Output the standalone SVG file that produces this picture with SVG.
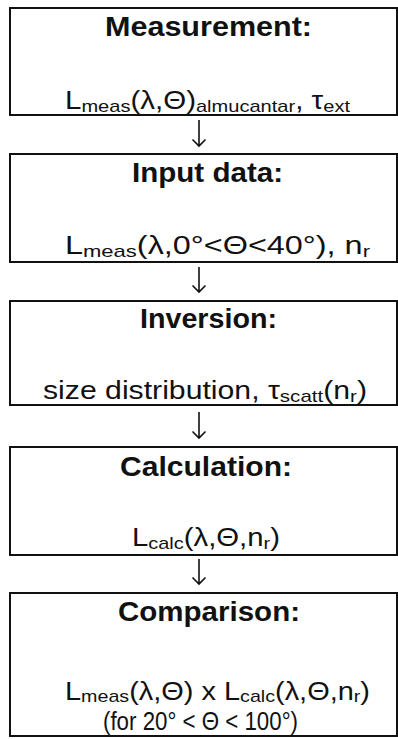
<svg xmlns="http://www.w3.org/2000/svg" width="398" height="739" viewBox="0 0 398 739">
<style>
.box{fill:#fff;stroke:#111;stroke-width:2}
.h{font-family:"Liberation Sans",Arial,Helvetica,sans-serif;font-weight:bold;font-size:27px;fill:#111}
.t{font-family:"Liberation Sans",Arial,Helvetica,sans-serif;font-size:25px;fill:#111}
.s{font-size:17px}
.arr{fill:none;stroke:#111;stroke-width:1.6}
</style>
<rect width="398" height="739" fill="#fff"/>
<g id="measurement">
<rect class="box" x="10" y="8" width="387" height="107"/>
<text class="h" x="105" y="36" textLength="207" lengthAdjust="spacingAndGlyphs">Measurement:</text>
<text class="t" x="65" y="109" textLength="285" lengthAdjust="spacingAndGlyphs">L<tspan class="s" dy="3">meas</tspan><tspan dy="-3">(λ,Θ)</tspan><tspan class="s" dy="3">almucantar</tspan><tspan dy="-3">, τ</tspan><tspan class="s" dy="3">ext</tspan></text>
</g>
<g id="input">
<rect class="box" x="10" y="154" width="387" height="108"/>
<text class="h" x="132" y="182" textLength="151" lengthAdjust="spacingAndGlyphs">Input data:</text>
<text class="t" x="65" y="254" textLength="305" lengthAdjust="spacingAndGlyphs">L<tspan class="s" dy="3">meas</tspan><tspan dy="-3">(λ,0°&lt;Θ&lt;40°), n</tspan><tspan class="s" dy="3">r</tspan></text>
</g>
<g id="inversion">
<rect class="box" x="10" y="301" width="387" height="104"/>
<text class="h" x="140" y="328" textLength="137" lengthAdjust="spacingAndGlyphs">Inversion:</text>
<text class="t" x="43" y="399" textLength="324" lengthAdjust="spacingAndGlyphs">size distribution, τ<tspan class="s" dy="3">scatt</tspan><tspan dy="-3">(n</tspan><tspan class="s" dy="3">r</tspan><tspan dy="-3">)</tspan></text>
</g>
<g id="calculation">
<rect class="box" x="10" y="447" width="387" height="108"/>
<text class="h" x="120" y="476" textLength="172" lengthAdjust="spacingAndGlyphs">Calculation:</text>
<text class="t" x="132" y="546" textLength="148" lengthAdjust="spacingAndGlyphs">L<tspan class="s" dy="3">calc</tspan><tspan dy="-3">(λ,Θ,n</tspan><tspan class="s" dy="3">r</tspan><tspan dy="-3">)</tspan></text>
</g>
<g id="comparison">
<rect class="box" x="10" y="593" width="387" height="143"/>
<text class="h" x="118" y="621" textLength="182" lengthAdjust="spacingAndGlyphs">Comparison:</text>
<text class="t" x="65" y="700" textLength="305" lengthAdjust="spacingAndGlyphs">L<tspan class="s" dy="2">meas</tspan><tspan dy="-2">(λ,Θ) x L</tspan><tspan class="s" dy="2">calc</tspan><tspan dy="-2">(λ,Θ,n</tspan><tspan class="s" dy="2">r</tspan><tspan dy="-2">)</tspan></text>
<text class="t" x="103" y="730" textLength="195" lengthAdjust="spacingAndGlyphs">(for 20° &lt; Θ &lt; 100°)</text>
</g>
<g id="connectors">
<path class="arr" d="M199 120V146M192.5 139.5L199 146L205.5 139.5"/>
<path class="arr" d="M199 267V292M192.5 285.5L199 292L205.5 285.5"/>
<path class="arr" d="M199 412V438M192.5 431.5L199 438L205.5 431.5"/>
<path class="arr" d="M199 559V584M192.5 577.5L199 584L205.5 577.5"/>
</g>
</svg>
